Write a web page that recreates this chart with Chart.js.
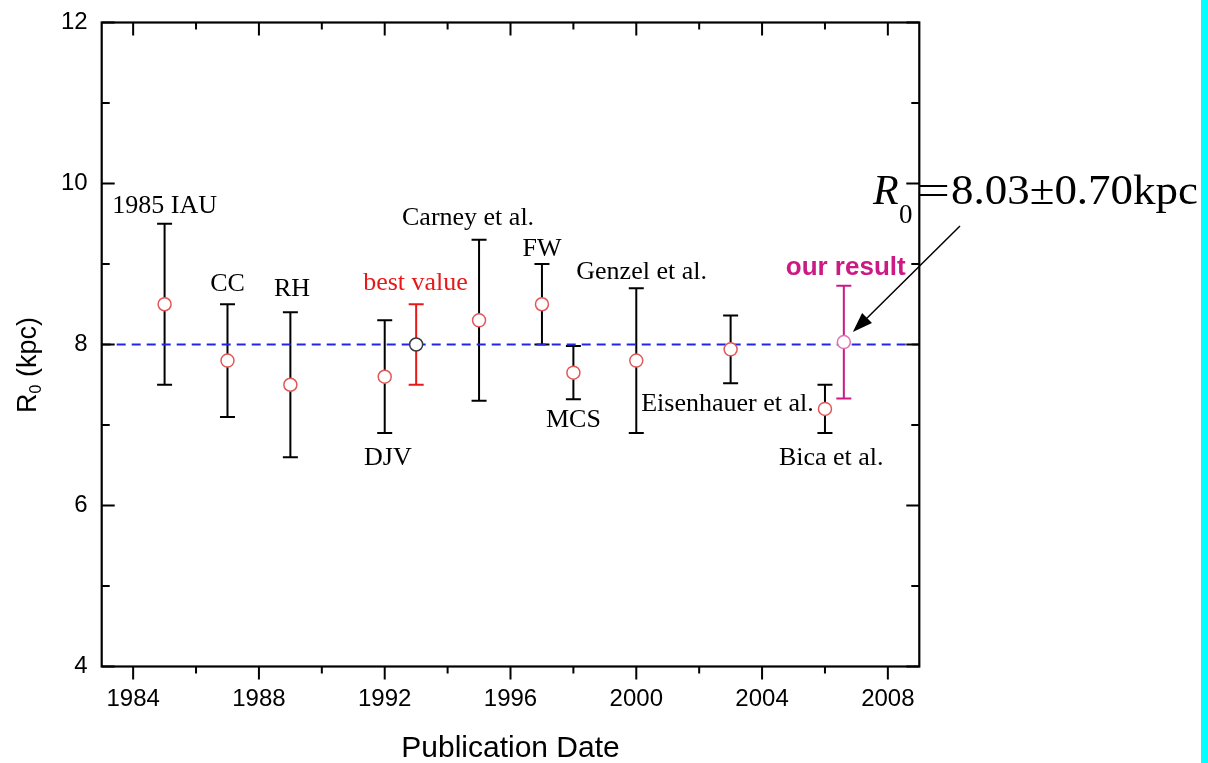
<!DOCTYPE html>
<html>
<head>
<meta charset="utf-8">
<script src="https://cdn.jsdelivr.net/npm/chart.js@4.4.1/dist/chart.umd.min.js"></script>
<style>
  html, body { margin: 0; padding: 0; background: #fff; }
  #wrap { position: relative; width: 1208px; height: 763px; }
</style>
</head>
<body>
<div id="wrap"><canvas id="r0Chart" width="1208" height="763"></canvas></div>
<script>
// R0 measurements vs publication date
const sources = ['1985 IAU', 'CC', 'RH', 'DJV', 'best value', 'Carney et al.', 'FW', 'MCS',
                 'Genzel et al.', 'Eisenhauer et al.', 'Bica et al.', 'our result'];
const years = [1985, 1987, 1989, 1992, 1993, 1995, 1997, 1998, 2000, 2003, 2006, 2006.6];
const r0 = [8.5, 7.8, 7.5, 7.6, 8.0, 8.3, 8.5, 7.65, 7.8, 7.94, 7.2, 8.03];
const r0Err = [1.0, 0.7, 0.9, 0.7, 0.5, 1.0, 0.5, 0.33, 0.9, 0.42, 0.3, 0.70];

// where each source name sits (in data units)
const labelYear = [1985.0, 1987.0, 1989.05, 1992.1, 1992.98, 1994.65, 1997.0, 1998.0, 2000.17, 2002.9, 2006.2, 2006.66];
const labelR0 = [9.63, 8.66, 8.60, 6.50, 8.68, 9.48, 9.10, 6.98, 8.81, 7.18, 6.50, 8.86];

const refValue = 8;
const xRange = [1983, 2009];
const yRange = [4, 12];
const xTicks = [1984, 1988, 1992, 1996, 2000, 2004, 2008];
const xMinorTicks = [1986, 1990, 1994, 1998, 2002, 2006];
const yTicks = [4, 6, 8, 10, 12];
const yMinorTicks = [5, 7, 9, 11];

const RED = '#e81818';
const MAGENTA = '#cc1a84';
const SERIF = '"Liberation Serif", "Times New Roman", serif';
const SANS = '"Liberation Sans", Arial, sans-serif';

function markColor(name) {
    if (name === 'best value') return RED;
    if (name === 'our result') return MAGENTA;
    return '#000';
}
function pointEdge(name) {
    if (name === 'best value') return '#3a3a3a';
    if (name === 'our result') return '#e070b0';
    return '#e25858';
}

// draw text squeezed/stretched to a given width
function fitText(ctx, txt, x, y, width) {
    const w = ctx.measureText(txt).width;
    ctx.save();
    ctx.translate(x, y);
    ctx.scale(width / w, 1);
    ctx.fillText(txt, 0, 0);
    ctx.restore();
}

// error bars under the points
const errorBars = {
    id: 'errorBars',
    beforeDatasetsDraw(chart) {
        const { ctx, scales: { x, y } } = chart;
        ctx.save();
        ctx.lineWidth = 2;
        years.forEach((yr, i) => {
            const px = x.getPixelForValue(yr);
            const top = y.getPixelForValue(r0[i] + r0Err[i]);
            const bot = y.getPixelForValue(r0[i] - r0Err[i]);
            ctx.strokeStyle = markColor(sources[i]);
            ctx.beginPath();
            ctx.moveTo(px, top); ctx.lineTo(px, bot);
            ctx.moveTo(px - 7.5, top); ctx.lineTo(px + 7.5, top);
            ctx.moveTo(px - 7.5, bot); ctx.lineTo(px + 7.5, bot);
            ctx.stroke();
        });
        ctx.restore();
    }
};

// frame, inward/outward ticks, titles, labels, annotation
const decorations = {
    id: 'decorations',
    afterDraw(chart) {
        const { ctx, chartArea: a, scales: { x, y } } = chart;
        ctx.save();
        ctx.strokeStyle = '#000';
        ctx.lineWidth = 2.2;
        ctx.strokeRect(a.left, a.top, a.right - a.left, a.bottom - a.top);

        ctx.lineWidth = 2;
        ctx.beginPath();
        const xt = (vals, len) => vals.forEach(v => {
            const px = x.getPixelForValue(v);
            ctx.moveTo(px, a.bottom); ctx.lineTo(px, a.bottom + len);  // bottom: outward
            ctx.moveTo(px, a.top); ctx.lineTo(px, a.top + len);        // top: inward
        });
        const yt = (vals, len) => vals.forEach(v => {
            const py = y.getPixelForValue(v);
            ctx.moveTo(a.left, py); ctx.lineTo(a.left + len, py);
            ctx.moveTo(a.right, py); ctx.lineTo(a.right - len, py);
        });
        xt(xTicks, 13); xt(xMinorTicks, 7);
        yt(yTicks, 13); yt(yMinorTicks, 8);
        ctx.stroke();

        // axis titles
        ctx.fillStyle = '#000';
        ctx.font = '30px ' + SANS;
        ctx.textAlign = 'center';
        ctx.textBaseline = 'alphabetic';
        ctx.fillText('Publication Date', (a.left + a.right) / 2, 757);

        ctx.save();
        ctx.translate(29, 365);
        ctx.rotate(-Math.PI / 2);
        ctx.textBaseline = 'middle';
        ctx.textAlign = 'left';
        ctx.font = '27px ' + SANS;
        const wR = ctx.measureText('R').width;
        const wRest = ctx.measureText(' (kpc)').width;
        ctx.font = '16px ' + SANS;
        const wSub = ctx.measureText('0').width;
        const cx = -(wR + wSub + wRest) / 2;
        ctx.font = '27px ' + SANS;
        ctx.fillText('R', cx, 0);
        ctx.font = '16px ' + SANS;
        ctx.fillText('0', cx + wR, 8);
        ctx.font = '27px ' + SANS;
        ctx.fillText(' (kpc)', cx + wR + wSub, 0);
        ctx.restore();

        // source names
        ctx.textAlign = 'center';
        ctx.textBaseline = 'alphabetic';
        sources.forEach((name, i) => {
            const px = x.getPixelForValue(labelYear[i]);
            const py = y.getPixelForValue(labelR0[i]);
            ctx.font = name === 'our result' ? 'bold 26px ' + SANS : '26px ' + SERIF;
            ctx.fillStyle = markColor(name);
            ctx.fillText(name, px, py);
        });

        // R0 = 8.03 +- 0.70 kpc annotation with arrow
        ctx.fillStyle = '#000';
        ctx.textAlign = 'left';
        ctx.font = 'italic 42px ' + SERIF;
        ctx.fillText('R', 873, 204);
        ctx.font = '27px ' + SERIF;
        ctx.fillText('0', 899, 223);
        ctx.font = '42px ' + SERIF;
        fitText(ctx, '=', 917, 204, 33);
        fitText(ctx, '8.03\u00b10.70kpc', 951, 204, 247);

        const last = years.length - 1;
        const tipX = x.getPixelForValue(years[last]) + 9;
        const tipY = y.getPixelForValue(r0[last]) - 10;
        const tailX = 960, tailY = 226;
        const ang = Math.atan2(tipY - tailY, tipX - tailX);
        ctx.strokeStyle = '#000';
        ctx.lineWidth = 1.5;
        ctx.beginPath();
        ctx.moveTo(tailX, tailY);
        ctx.lineTo(tipX - 14 * Math.cos(ang), tipY - 14 * Math.sin(ang));
        ctx.stroke();
        ctx.beginPath();
        ctx.moveTo(tipX, tipY);
        ctx.lineTo(tipX - 20 * Math.cos(ang) + 7 * Math.sin(ang), tipY - 20 * Math.sin(ang) - 7 * Math.cos(ang));
        ctx.lineTo(tipX - 20 * Math.cos(ang) - 7 * Math.sin(ang), tipY - 20 * Math.sin(ang) + 7 * Math.cos(ang));
        ctx.closePath();
        ctx.fill();

        // cyan strip at the right edge
        ctx.fillStyle = '#00ffff';
        ctx.fillRect(1201, 0, 7, chart.height);
        ctx.restore();
    }
};

new Chart(document.getElementById('r0Chart'), {
    type: 'scatter',
    data: {
        datasets: [
            {
                label: 'R0',
                data: years.map((yr, i) => ({ x: yr, y: r0[i] })),
                pointStyle: 'circle',
                pointRadius: 6.5,
                pointBorderWidth: 1.5,
                pointBackgroundColor: '#fff',
                pointBorderColor: sources.map(pointEdge),
                showLine: false
            },
            {
                type: 'line',
                label: 'reference',
                data: [{ x: xRange[0], y: refValue }, { x: xRange[1], y: refValue }],
                borderColor: '#2424e6',
                borderWidth: 1.8,
                borderDash: [9, 6],
                pointRadius: 0,
                fill: false
            }
        ]
    },
    options: {
        responsive: false,
        animation: false,
        devicePixelRatio: 1,
        layout: { padding: { top: 22.5, right: 288.7, left: 0, bottom: 0 } },
        plugins: { legend: { display: false }, tooltip: { enabled: false } },
        scales: {
            x: {
                type: 'linear',
                min: xRange[0],
                max: xRange[1],
                afterBuildTicks: s => { s.ticks = xTicks.map(v => ({ value: v })); },
                afterFit: s => { s.height = 96.5; s.paddingLeft = 0; s.paddingRight = 0; },
                grid: { display: false, drawTicks: false },
                border: { display: false },
                ticks: { color: '#000', padding: 18, maxRotation: 0, callback: v => String(v),
                         font: { family: SANS, size: 24 } }
            },
            y: {
                min: yRange[0],
                max: yRange[1],
                afterBuildTicks: s => { s.ticks = yTicks.map(v => ({ value: v })); },
                afterFit: s => { s.width = 101.7; s.paddingTop = 0; s.paddingBottom = 0; },
                grid: { display: false, drawTicks: false },
                border: { display: false },
                ticks: { color: '#000', padding: 14, callback: v => String(v),
                         font: { family: SANS, size: 24 } }
            }
        }
    },
    plugins: [errorBars, decorations]
});
</script>
</body>
</html>
